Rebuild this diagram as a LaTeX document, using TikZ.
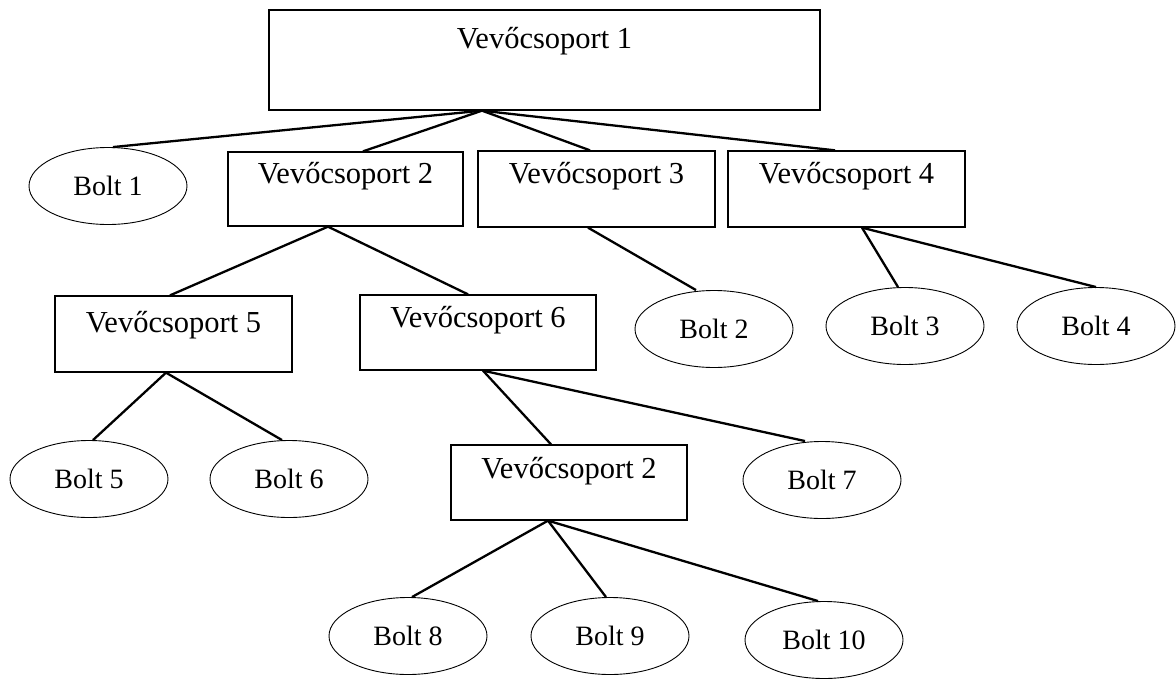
\documentclass[tikz,border=0pt]{standalone}
\usepackage{fontspec}
\setmainfont{Liberation Serif}
\usetikzlibrary{shapes.geometric}
\begin{document}
\begin{tikzpicture}[x=1pt,y=1pt,
  grp/.style={draw, line width=1.3pt, inner xsep=0pt, inner ysep=0pt,
    minimum width=236pt, text height=33pt, text depth=43pt,
    font=\fontsize{30.5}{36}\selectfont},
  shop/.style={draw, ellipse, line width=0.9pt, inner sep=0pt,
    minimum width=158pt, minimum height=77pt,
    font=\fontsize{28}{34}\selectfont},
  link/.style={line width=2.3pt}]
\useasboundingbox (0,0) rectangle (1176,-678);
% groups
\node[grp, minimum width=551pt, text height=38pt, text depth=62pt] (v1) at (544.5,-60) {Vevőcsoport 1};
\node[grp, minimum width=235pt, text height=31pt, text depth=43pt] (v2) at (345.5,-189) {Vevőcsoport 2};
\node[grp, minimum width=237pt, text height=32pt, text depth=44pt] (v3) at (596.5,-189) {Vevőcsoport 3};
\node[grp, minimum width=237pt, text height=32pt, text depth=44pt] (v4) at (846.5,-189) {Vevőcsoport 4};
\node[grp, minimum width=237pt, text height=36pt, text depth=40pt] (v5) at (173.5,-334) {Vevőcsoport 5};
\node[grp, text height=32pt, text depth=43pt] (v6) at (478,-332.5) {Vevőcsoport 6};
\node[grp, text height=33pt, text depth=42pt] (v2b) at (569,-482.5) {Vevőcsoport 2};
% shops
\node[shop] (b1) at (108,-186) {Bolt 1};
\node[shop] (b2) at (714,-329) {Bolt 2};
\node[shop] (b3) at (905,-326) {Bolt 3};
\node[shop] (b4) at (1096,-326) {Bolt 4};
\node[shop] (b5) at (89,-479) {Bolt 5};
\node[shop] (b6) at (289,-479) {Bolt 6};
\node[shop] (b7) at (822,-480) {Bolt 7};
\node[shop] (b8) at (408,-636) {Bolt 8};
\node[shop] (b9) at (610,-636) {Bolt 9};
\node[shop] (b10) at (824,-640) {Bolt 10};
% connectors
\draw[link] ([xshift=-62.5pt]v1.south) -- ([xshift=5pt]b1.north);
\draw[link] ([xshift=-62.5pt]v1.south) -- ([xshift=17.5pt]v2.north);
\draw[link] ([xshift=-62.5pt]v1.south) -- ([xshift=-6.5pt]v3.north);
\draw[link] ([xshift=-62.5pt]v1.south) -- ([xshift=-11.5pt]v4.north);
\draw[link] ([xshift=-17.5pt]v2.south) -- ([xshift=-3.5pt]v5.north);
\draw[link] ([xshift=-17.5pt]v2.south) -- ([xshift=-10pt]v6.north);
\draw[link] ([xshift=-8.5pt]v3.south) -- ([xshift=-18pt]b2.north);
\draw[link] ([xshift=15.5pt]v4.south) -- ([xshift=-7pt]b3.north);
\draw[link] ([xshift=15.5pt]v4.south) -- (b4.north);
\draw[link] ([xshift=-7.5pt]v5.south) -- ([xshift=4pt]b5.north);
\draw[link] ([xshift=-7.5pt]v5.south) -- ([xshift=-7pt]b6.north);
\draw[link] ([xshift=5pt]v6.south) -- ([xshift=-18pt]v2b.north);
\draw[link] ([xshift=5pt]v6.south) -- ([xshift=-17pt]b7.north);
\draw[link] ([xshift=-21pt]v2b.south) -- ([xshift=4pt]b8.north);
\draw[link] ([xshift=-21pt]v2b.south) -- ([xshift=-4pt]b9.north);
\draw[link] ([xshift=-21pt]v2b.south) -- ([xshift=-6pt]b10.north);
\end{tikzpicture}
\end{document}
